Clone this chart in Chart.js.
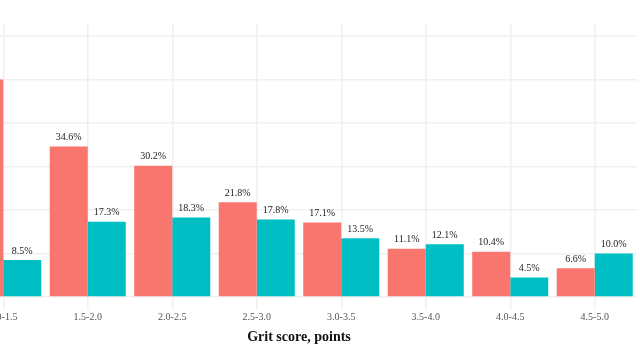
<!DOCTYPE html>
<html>
<head>
<meta charset="utf-8">
<script src="https://cdn.jsdelivr.net/npm/chart.js@4/dist/chart.umd.min.js"></script>
<style>
    html, body { margin: 0; padding: 0; background: #ffffff; }
    #frame { position: relative; width: 640px; height: 360px; overflow: hidden; }
    #chart-grit { position: absolute; left: -60px; top: 0; }
</style>
</head>
<body>
<div id="frame">
    <canvas id="chart-grit" width="720" height="360"></canvas>
</div>
<script>
// Grit score bins
const gritBins = ['1.0-1.5', '1.5-2.0', '2.0-2.5', '2.5-3.0', '3.0-3.5', '3.5-4.0', '4.0-4.5', '4.5-5.0'];

// Share of respondents per bin (%)
const groupA = [50.0, 34.6, 30.2, 21.8, 17.1, 11.1, 10.4, 6.6];
const groupB = [8.5, 17.3, 18.3, 17.8, 13.5, 12.1, 4.5, 10.0];

const yTicks = [0, 10, 20, 30, 40, 50, 60];

const serif = "'Liberation Serif', 'DejaVu Serif', serif";
const gridColor = '#f0f0f0';

// draws "xx.x%" above every bar
const barLabels = {
    id: 'barLabels',
    afterDatasetsDraw(chart) {
        const ctx = chart.ctx;
        ctx.save();
        ctx.font = '10px ' + serif;
        ctx.fillStyle = '#222222';
        ctx.textAlign = 'center';
        ctx.textBaseline = 'middle';
        chart.data.datasets.forEach((ds, i) => {
            chart.getDatasetMeta(i).data.forEach((bar, j) => {
                ctx.fillText(ds.data[j].toFixed(1) + '%', bar.x, bar.y - 9);
            });
        });
        ctx.restore();
    }
};

new Chart(document.getElementById('chart-grit'), {
    type: 'bar',
    data: {
        labels: gritBins,
        datasets: [
            {
                label: 'A',
                data: groupA,
                backgroundColor: '#F8766D',
                borderWidth: 0,
                categoryPercentage: 0.9,
                barPercentage: 1.0
            },
            {
                label: 'B',
                data: groupB,
                backgroundColor: '#00BFC4',
                borderWidth: 0,
                categoryPercentage: 0.9,
                barPercentage: 1.0
            }
        ]
    },
    options: {
        responsive: false,
        animation: false,
        layout: {
            padding: { left: 21, right: 23, top: 23, bottom: 0 }
        },
        plugins: {
            legend: { display: false },
            tooltip: { enabled: false }
        },
        scales: {
            x: {
                grid: {
                    offset: false,
                    color: gridColor,
                    lineWidth: 1.5,
                    drawTicks: false
                },
                border: { display: false },
                ticks: {
                    color: '#555555',
                    padding: 1,
                    font: { family: serif, size: 10 }
                },
                title: {
                    display: true,
                    text: 'Grit score, points',
                    color: '#111111',
                    padding: { top: 4, bottom: 14 },
                    font: { family: serif, size: 14, weight: 'bold' }
                },
                afterFit(scale) { scale.height = 50; }
            },
            y: {
                min: -3,
                max: 63,
                afterBuildTicks(scale) {
                    scale.ticks = yTicks.map(v => ({ value: v }));
                },
                grid: {
                    color: gridColor,
                    lineWidth: 1.5,
                    drawTicks: false
                },
                border: { display: false },
                ticks: { display: false },
                afterFit(scale) { scale.width = 0; }
            }
        }
    },
    plugins: [barLabels]
});
</script>
</body>
</html>
